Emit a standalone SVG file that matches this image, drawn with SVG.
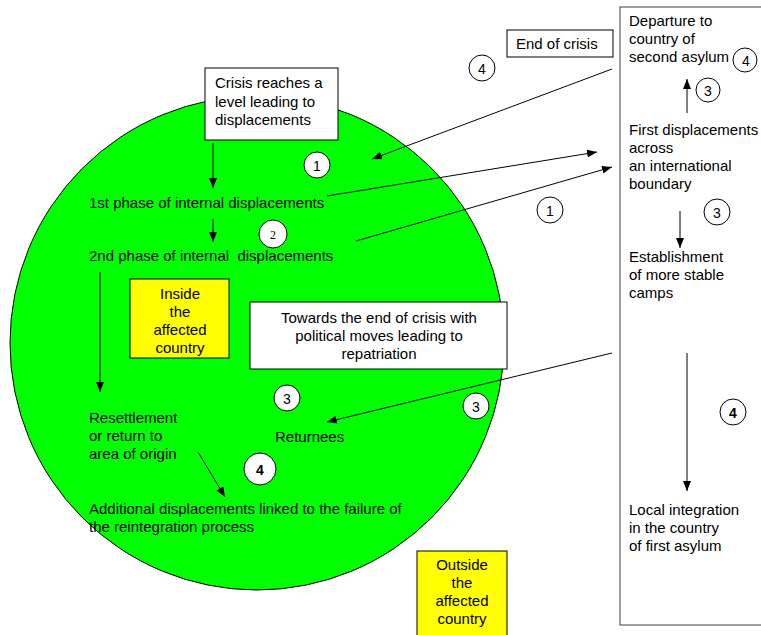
<svg xmlns="http://www.w3.org/2000/svg" width="761" height="635" viewBox="0 0 761 635">
<defs>
<marker id="ah" viewBox="0 0 10 8" refX="10" refY="4" markerWidth="10" markerHeight="8" markerUnits="userSpaceOnUse" orient="auto">
<path d="M0,0 L10,4 L0,8 Z" fill="#000"/>
</marker>
</defs>
<style>
text{font-family:"Liberation Sans",Arial,sans-serif;font-size:15px;fill:#000}
.c{text-anchor:middle}
.box{fill:#fff;stroke:#000;stroke-width:1}
.yb{fill:#ffff00;stroke:#000;stroke-width:1}
.num{fill:#fff;stroke:#000;stroke-width:1}
.n{font-size:14px;text-anchor:middle}
.arr{stroke:#000;stroke-width:1;fill:none;marker-end:url(#ah)}
</style>
<rect width="761" height="635" fill="#fff"/>
<g id="country-circle">
<ellipse cx="257" cy="343" rx="247" ry="247" fill="#00ff00" stroke="#000" stroke-width="1"/>
</g>
<g id="right-panel">
<rect x="620" y="7" width="160" height="618" fill="#fff" stroke="#404040" stroke-width="1"/>
</g>
<g id="crisis-box">
<rect class="box" x="205" y="68" width="133" height="72"/>
<text x="215" y="88">Crisis reaches a</text>
<text x="215" y="107">level leading to</text>
<text x="215" y="125">displacements</text>
</g>
<g id="end-of-crisis">
<rect class="box" x="507" y="30" width="106" height="27"/>
<text x="516" y="49">End of crisis</text>
</g>
<g id="phase1"><text x="89" y="208">1st phase of internal displacements</text></g>
<g id="phase2"><text x="89" y="261" xml:space="preserve">2nd phase of internal  displacements</text></g>
<g id="inside-box">
<rect class="yb" x="130" y="279" width="99" height="79"/>
<text class="c" x="180" y="299">Inside</text>
<text class="c" x="180" y="317">the</text>
<text class="c" x="180" y="335">affected</text>
<text class="c" x="180" y="353">country</text>
</g>
<g id="towards-box">
<rect class="box" x="250" y="302" width="257" height="67"/>
<text class="c" x="379" y="323">Towards the end of crisis with</text>
<text class="c" x="379" y="341">political moves leading to</text>
<text class="c" x="379" y="359">repatriation</text>
</g>
<g id="resettlement">
<text x="89" y="423">Resettlement</text>
<text x="89" y="441">or return to</text>
<text x="89" y="459">area of origin</text>
</g>
<g id="returnees"><text x="275" y="442">Returnees</text></g>
<g id="additional">
<text x="89" y="514">Additional displacements linked to the failure of</text>
<text x="89" y="532">the reintegration process</text>
</g>
<g id="outside-box">
<rect class="yb" x="417" y="551" width="90" height="90"/>
<text class="c" x="462" y="570">Outside</text>
<text class="c" x="462" y="588">the</text>
<text class="c" x="462" y="606">affected</text>
<text class="c" x="462" y="624">country</text>
</g>
<g id="departure">
<text x="629" y="26">Departure to</text>
<text x="629" y="44">country of</text>
<text x="629" y="62">second asylum</text>
</g>
<g id="first-displacements">
<text x="629" y="135">First displacements</text>
<text x="629" y="153">across</text>
<text x="629" y="171">an international</text>
<text x="629" y="189">boundary</text>
</g>
<g id="establishment">
<text x="629" y="262">Establishment</text>
<text x="629" y="280">of more stable</text>
<text x="629" y="298">camps</text>
</g>
<g id="local-integration">
<text x="629" y="515">Local integration</text>
<text x="629" y="533">in the country</text>
<text x="629" y="551">of first asylum</text>
</g>
<g id="markers">
<circle class="num" cx="317" cy="165" r="13"/><text class="n" x="317" y="171">1</text>
<circle class="num" cx="273" cy="234" r="14"/><text class="n" x="273" y="239" style="font-family:'Liberation Serif',serif;font-size:12px">2</text>
<circle class="num" cx="482" cy="68" r="13"/><text class="n" x="482" y="74">4</text>
<circle class="num" cx="550" cy="210" r="13"/><text class="n" x="550" y="216">1</text>
<circle class="num" cx="745" cy="60" r="12"/><text class="n" x="746" y="66">4</text>
<circle class="num" cx="708" cy="90" r="12"/><text class="n" x="708" y="96">3</text>
<circle class="num" cx="717" cy="212" r="13"/><text class="n" x="717" y="218">3</text>
<circle class="num" cx="733" cy="412" r="13"/><text class="n" x="733" y="418" style="font-weight:bold">4</text>
<circle class="num" cx="287" cy="398" r="13"/><text class="n" x="287" y="404">3</text>
<circle class="num" cx="476" cy="406" r="13"/><text class="n" x="476" y="412">3</text>
<circle class="num" cx="260" cy="469" r="16"/><text class="n" x="260" y="475" style="font-weight:bold">4</text>
</g>
<g id="connectors">
<line class="arr" x1="213" y1="143" x2="213" y2="188"/>
<line class="arr" x1="213" y1="219" x2="213" y2="242"/>
<line class="arr" x1="100" y1="272" x2="100" y2="392"/>
<line class="arr" x1="327" y1="196" x2="597" y2="152"/>
<line class="arr" x1="356" y1="241" x2="612" y2="167"/>
<line class="arr" x1="612" y1="69" x2="372" y2="159"/>
<line class="arr" x1="612" y1="353" x2="327" y2="422"/>
<line class="arr" x1="198" y1="452" x2="225" y2="497"/>
<line class="arr" x1="687" y1="113" x2="687" y2="79"/>
<line class="arr" x1="680" y1="211" x2="680" y2="248"/>
<line class="arr" x1="687" y1="353" x2="687" y2="491"/>
</g>
</svg>
